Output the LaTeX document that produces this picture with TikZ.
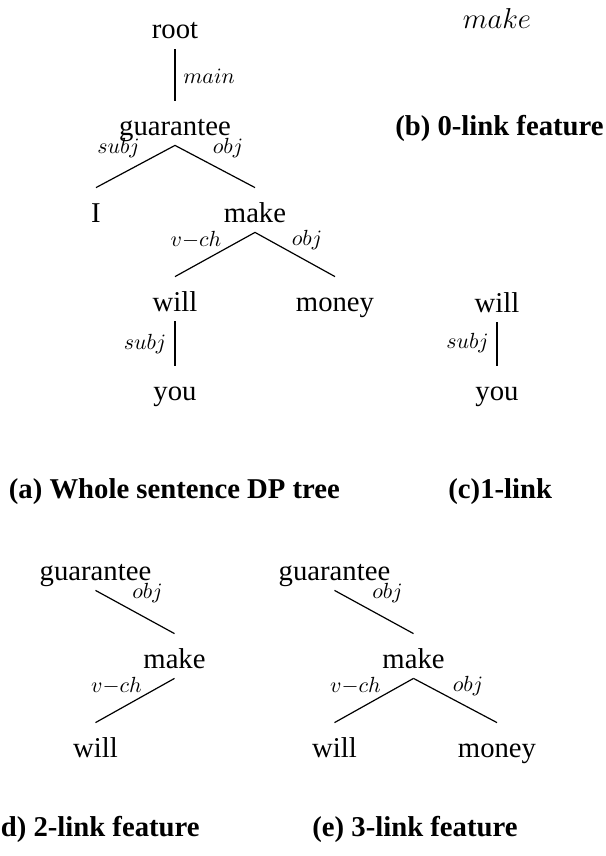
\documentclass[tikz,border=0pt]{standalone}
\usepackage{fontspec}
\setmainfont{Liberation Serif}
\begin{document}
\begin{tikzpicture}[x=0.5pt,y=-0.5pt,
  word/.style={inner sep=0pt,text height=17pt,text depth=5pt,anchor=base,font=\fontsize{14.35}{17}\selectfont},
  lab/.style={inner sep=0pt,font=\fontsize{11.3}{13}\selectfont},
  captext/.style={inner sep=0pt,font=\fontsize{14.35}{17}\selectfont\bfseries},
  dep/.style={line width=0.6pt}]
\useasboundingbox (0,0) rectangle (605,856);
% (a) whole sentence tree
\node[word] (aroot) at (175,39) {root};
\node[word] (aguar) at (175,135) {guarantee};
\node[word] (aI) at (96,222) {I};
\node[word] (amake) at (255,222) {make};
\node[word] (awill) at (175,311) {will};
\node[word] (amoney) at (335,311) {money};
\node[word] (ayou) at (175,400) {you};
\draw[dep] (aroot.south) -- (aguar.north);
\draw[dep] (aguar.south) -- (aI.north);
\draw[dep] (aguar.south) -- (amake.north);
\draw[dep] (amake.south) -- (awill.north);
\draw[dep] (amake.south) -- (amoney.north);
\draw[dep] (awill.south) -- (ayou.north);
\node[lab] (al1) at (209,76) {$main$};
\node[lab] (al2) at (118.5,148) {$subj$};
\node[lab] (al3) at (228,148) {$obj$};
\node[lab] (al4) at (196,240) {$v{-}ch$};
\node[lab] (al5) at (307,240) {$obj$};
\node[lab] (al6) at (145,344) {$subj$};
\node[captext,anchor=base west] (acap) at (8.5,498) {(a) Whole sentence DP tree};
% (b)
\node[word] (bmake) at (497,29) {$make$};
\node[captext,anchor=base east] (bcap) at (604,135) {(b) 0-link feature};
% (c)
\node[word] (cwill) at (497,312) {will};
\node[word] (cyou) at (497,400) {you};
\draw[dep] (cwill.south) -- (cyou.north);
\node[lab] (cl1) at (467.5,343) {$subj$};
\node[captext,anchor=base west] (ccap) at (448,498) {(c)1-link};
% (d)
\node[word] (dguar) at (95.5,580) {guarantee};
\node[word] (dmake) at (174.5,668) {make};
\node[word] (dwill) at (95.5,757) {will};
\draw[dep] (dguar.south) -- (dmake.north);
\draw[dep] (dmake.south) -- (dwill.north);
\node[lab] (dl1) at (147.5,593) {$obj$};
\node[lab] (dl2) at (116.5,686) {$v{-}ch$};
\node[captext,anchor=base east] (dcap) at (200,836) {(d) 2-link feature};
% (e)
\node[word] (eguar) at (334.5,580) {guarantee};
\node[word] (emake) at (413.5,668) {make};
\node[word] (ewill) at (334.5,757) {will};
\node[word] (emoney) at (497,757) {money};
\draw[dep] (eguar.south) -- (emake.north);
\draw[dep] (emake.south) -- (ewill.north);
\draw[dep] (emake.south) -- (emoney.north);
\node[lab] (el1) at (387.5,593) {$obj$};
\node[lab] (el2) at (355.5,686) {$v{-}ch$};
\node[lab] (el3) at (468,686) {$obj$};
\node[captext,anchor=base west] (ecap) at (312,836) {(e) 3-link feature};
\end{tikzpicture}
\end{document}
